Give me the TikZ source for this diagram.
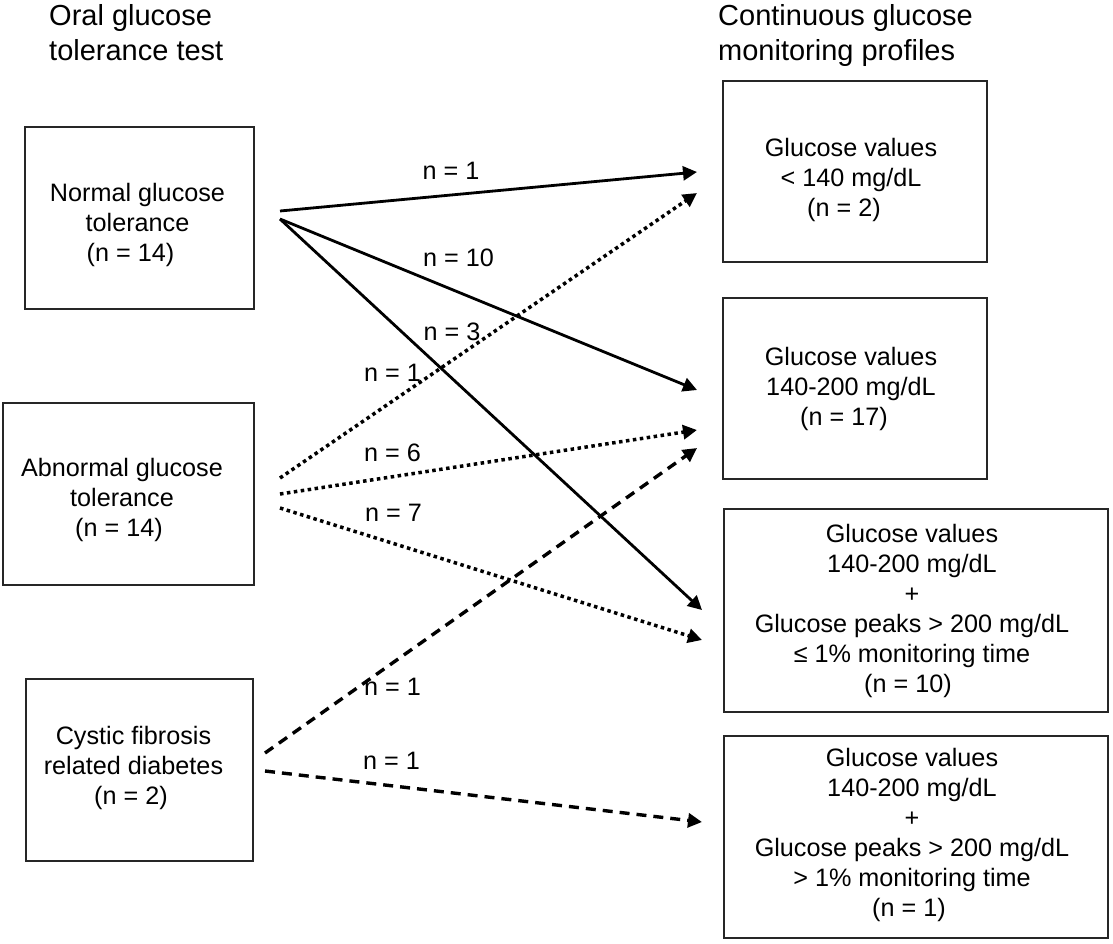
\documentclass[tikz,border=0pt]{standalone}
\usepackage{fontspec}
\setmainfont{Liberation Sans}
\usetikzlibrary{arrows.meta}
\begin{document}
\begin{tikzpicture}[x=1pt,y=-1pt,
  box/.style={draw=black!85, line width=1.7pt, inner sep=0pt},
  txt/.style={align=center, inner sep=0pt, font=\fontsize{25.2}{30}\selectfont, anchor=north},
  ttl/.style={align=left, inner sep=0pt, font=\fontsize{29}{35}\selectfont, anchor=north west},
  lbl/.style={inner sep=0pt, font=\fontsize{25.2}{30}\selectfont},
  arrowtip/.style={-{Triangle[length=14pt,width=14pt]}},
  solidarrow/.style={arrowtip, line width=2.8pt},
  dottedarrow/.style={arrowtip, line width=3.5pt, dash pattern=on 3.5pt off 3.5pt},
  dashedarrow/.style={arrowtip, line width=3.4pt, dash pattern=on 10pt off 7pt},
]
\useasboundingbox (0,0) rectangle (1113,943);

% titles
\node[ttl] (tleft) at (49,4) {Oral glucose\\tolerance test};
\node[ttl] (tright) at (718,4) {Continuous glucose\\monitoring profiles};

% left boxes
\node[box, minimum width=229pt, minimum height=182pt] (ngt) at (139.5,218) {};
\node[txt] (ngtT) at (137.5,183) {Normal glucose\\tolerance\\(n = 14)\hspace*{14pt}};
\node[box, minimum width=251pt, minimum height=182pt] (agt) at (128.5,494) {};
\node[txt] (agtT) at (122,458) {Abnormal glucose\\tolerance\\(n = 14)\hspace*{6pt}};
\node[box, minimum width=227pt, minimum height=182pt] (cfrd) at (139.5,770) {};
\node[txt] (cfrdT) at (133.5,726) {Cystic fibrosis\\related diabetes\\(n = 2)\hspace*{5pt}};

% right boxes
\node[box, minimum width=264pt, minimum height=181pt] (r1) at (855,171.5) {};
\node[txt] (r1T) at (851,138) {Glucose values\\< 140 mg/dL\\(n = 2)\hspace*{14pt}};
\node[box, minimum width=264pt, minimum height=181pt] (r2) at (855,388.5) {};
\node[txt] (r2T) at (851,347) {Glucose values\\140-200 mg/dL\\(n = 17)\hspace*{14pt}};
\node[box, minimum width=384pt, minimum height=203pt] (r3) at (916,610.5) {};
\node[txt] (r3T) at (912,524) {Glucose values\\140-200 mg/dL\\+\\Glucose peaks > 200 mg/dL\\≤ 1\% monitoring time\\(n = 10)\hspace*{8pt}};
\node[box, minimum width=384pt, minimum height=202pt] (r4) at (916,837) {};
\node[txt] (r4T) at (912,748) {Glucose values\\140-200 mg/dL\\+\\Glucose peaks > 200 mg/dL\\> 1\% monitoring time\\(n = 1)\hspace*{6pt}};

% connector end points
\coordinate (nA) at (280,211);
\coordinate (nB) at (280,219);
\coordinate (aA) at (280,478);
\coordinate (aB) at (280,494);
\coordinate (aC) at (280,508);
\coordinate (cA) at (265,753);
\coordinate (cB) at (265,771);
\coordinate (r1a) at (697,172);
\coordinate (r1b) at (697,193);
\coordinate (r2a) at (697,390);
\coordinate (r2b) at (697,430);
\coordinate (r2c) at (697,448);
\coordinate (r3a) at (702,610);
\coordinate (r3b) at (702,640);
\coordinate (r4a) at (702,822);

% connectors
\draw[solidarrow] (nA) -- (r1a);
\draw[solidarrow] (nB) -- (r2a);
\draw[solidarrow] (nB) -- (r3a);
\draw[dottedarrow] (aA) -- (r1b);
\draw[dottedarrow] (aB) -- (r2b);
\draw[dottedarrow] (aC) -- (r3b);
\draw[dashedarrow] (cA) -- (r2c);
\draw[dashedarrow] (cB) -- (r4a);

% labels
\node[lbl] (l1) at (451,171) {n = 1};
\node[lbl] (l2) at (458.5,258) {n = 10};
\node[lbl] (l3) at (452,332) {n = 3};
\node[lbl] (l4) at (392.5,373) {n = 1};
\node[lbl] (l5) at (392.5,453) {n = 6};
\node[lbl] (l6) at (393.5,513) {n = 7};
\node[lbl] (l7) at (392.5,687) {n = 1};
\node[lbl] (l8) at (391.5,761) {n = 1};
\end{tikzpicture}
\end{document}
